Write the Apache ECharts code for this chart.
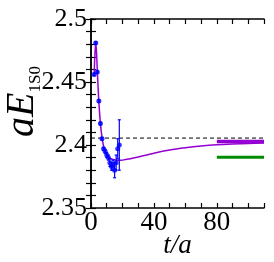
<!DOCTYPE html>
<html>
<head>
<meta charset="utf-8">
<script src="https://cdn.jsdelivr.net/npm/echarts@6/dist/echarts.min.js"></script>
<style>
html,body{margin:0;padding:0;background:#fff;}
#c{width:274px;height:262px;}
</style>
</head>
<body>
<div id="c"></div>
<script>
// effective-mass data points
const tSteps = [2,3,4,5,6,7,8,9,10,11,12,13,14,15,16,17,18];
const effMass = [2.456,2.481,2.458,2.435,2.417,2.405,2.397,2.395,2.392,2.390,2.386,2.383,2.384,2.380,2.386,2.397,2.400];
const effErr  = [0.001,0.001,0.001,0.001,0.001,0.001,0.001,0.0015,0.002,0.002,0.003,0.003,0.004,0.006,0.006,0.008,0.020];
// fit curve
const fitT   = [2,2.5,3,3.5,4,4.5,5,6,7,8,9,10,12,14,16,18,20,25,30,40,50,60,70,80,90,100,110];
const fitVal = [2.456,2.472,2.481,2.474,2.459,2.446,2.434,2.417,2.406,2.399,2.395,2.392,2.3895,2.3885,2.388,2.3878,2.388,2.389,2.3905,2.3935,2.396,2.3978,2.3992,2.4002,2.4008,2.4012,2.4015];
// plateau / reference levels
const bandT = [80,110];
const purpleLevel = 2.4027;
const greenLevel = 2.3903;
const refT = [0,110];
const refLevel = 2.4055;
// tick labels
const xTickLabels = [0,40,80];
const yTickLabels = ['2.35','2.4','2.45','2.5'];

const chart = echarts.init(document.getElementById('c'), null, {renderer:'canvas'});
const serif = 'Liberation Serif';
const axisCommon = {
  axisLine:{show:true, lineStyle:{color:'#000', width:1.5}},
  axisTick:{show:true, inside:true, length:5, lineStyle:{color:'#000', width:1.2}},
  splitLine:{show:false}
};
const option = {
  animation:false,
  grid:{left:91, right:10, top:19, bottom:54, outerBoundsMode:'none', containLabel:false},
  xAxis:[
    Object.assign({type:'value', min:0, max:110, interval:10, position:'bottom',
      axisLabel:{margin:1, fontFamily:serif, fontSize:27, color:'#000',
        formatter:v => xTickLabels.indexOf(Math.round(v))>=0 ? String(Math.round(v)) : ''},
      name:'t/a', nameLocation:'middle', nameGap:24, nameMoveOverlap:false,
      nameTextStyle:{fontFamily:serif, fontStyle:'italic', fontSize:27, color:'#000'}
    }, axisCommon),
    Object.assign({type:'value', min:0, max:110, interval:10, position:'top', axisLabel:{show:false}}, axisCommon)
  ],
  yAxis:[
    Object.assign({type:'value', min:2.35, max:2.5, interval:0.01, position:'left',
      axisLabel:{margin:4, fontFamily:serif, fontSize:26, color:'#000',
        formatter:v => { const s = String(Math.round(v*100)/100); return yTickLabels.indexOf(s)>=0 ? s : ''; }},
      name:'{i|aE}{s|1S0}', nameLocation:'middle', nameGap:47, nameRotate:90, nameMoveOverlap:false,
      nameTextStyle:{padding:[0,0,0,24], rich:{
        i:{fontFamily:serif, fontStyle:'italic', fontSize:40, color:'#000', lineHeight:44},
        s:{fontFamily:serif, fontSize:17, color:'#000', verticalAlign:'bottom', lineHeight:17}
      }}
    }, axisCommon),
    Object.assign({type:'value', min:2.35, max:2.5, interval:0.01, position:'right', axisLabel:{show:false}}, axisCommon)
  ],
  series:[
    {type:'line', data:refT.map(t=>[t,refLevel]), symbol:'none', silent:true,
      lineStyle:{color:'#000', width:1, type:[4,3]}},
    {type:'line', data:fitT.map((t,i)=>[t,fitVal[i]]), symbol:'none', smooth:0.3,
      lineStyle:{color:'#9400d3', width:1.5}},
    {type:'line', data:bandT.map(t=>[t,purpleLevel]), symbol:'none',
      lineStyle:{color:'#9400d3', width:3.5}},
    {type:'line', data:bandT.map(t=>[t,greenLevel]), symbol:'none',
      lineStyle:{color:'#008c00', width:3}},
    {type:'custom', data:tSteps.map((t,i)=>[t,effMass[i]-effErr[i],effMass[i]+effErr[i]]),
      renderItem:(params, api)=>{
        const lo = api.coord([api.value(0), api.value(1)]);
        const hi = api.coord([api.value(0), api.value(2)]);
        const st = {stroke:'#0000ff', lineWidth:1.2};
        return {type:'group', children:[
          {type:'line', shape:{x1:lo[0],y1:lo[1],x2:hi[0],y2:hi[1]}, style:st},
          {type:'line', shape:{x1:lo[0]-1.5,y1:lo[1],x2:lo[0]+1.5,y2:lo[1]}, style:st},
          {type:'line', shape:{x1:hi[0]-1.5,y1:hi[1],x2:hi[0]+1.5,y2:hi[1]}, style:st}
        ]};
      }, z:5},
    {type:'scatter', data:tSteps.map((t,i)=>[t,effMass[i]]), symbol:'circle', symbolSize:5,
      itemStyle:{color:'#0000ff'}, z:6}
  ]
};
chart.setOption(option);
</script>
</body>
</html>
